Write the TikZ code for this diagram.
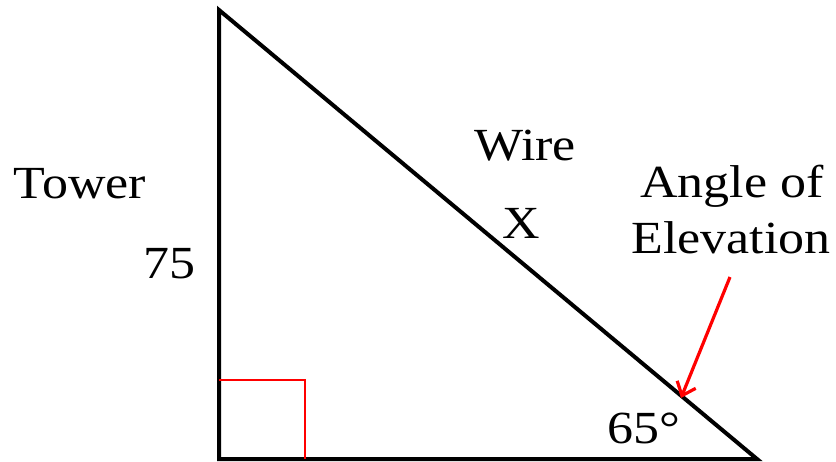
\documentclass[tikz,border=0pt]{standalone}
\usepackage{fontspec}
\setmainfont[FakeStretch=1.13]{Liberation Serif}
\usetikzlibrary{arrows.meta}
\begin{document}
\begin{tikzpicture}[x=1pt,y=-1pt,
  lbl/.style={anchor=base,inner sep=0pt,font=\fontsize{46}{52}\selectfont},
  side/.style={line width=4pt,black},
  sq/.style={line width=1.8pt,red},
  pointer/.style={line width=3.2pt,red,-{Straight Barb[length=12pt,width=20pt]}}]
\useasboundingbox (0,0) rectangle (836,461);
\coordinate (A) at (219,10);
\coordinate (B) at (219,459);
\coordinate (C) at (757,459);
\draw[side] (A) -- (B) -- (C) -- cycle;
\coordinate (S1) at (219,380);
\coordinate (S2) at (305,380);
\coordinate (S3) at (305,459);
\draw[sq] (S1) -- (S2) -- (S3);
\node[lbl] (tower) at (80,198) {Tower};
\node[lbl] (len) at (169,278) {75};
\node[lbl] (wire) at (525,160) {Wire};
\node[lbl] (x) at (521,238) {X};
\node[lbl] (ang1) at (732,197) {Angle of};
\node[lbl] (ang2) at (731,253) {Elevation};
\node[lbl] (deg) at (644,443) {65°};
\coordinate (P1) at (730,277);
\coordinate (P2) at (681,398);
\draw[pointer] (P1) -- (P2);
\end{tikzpicture}
\end{document}
